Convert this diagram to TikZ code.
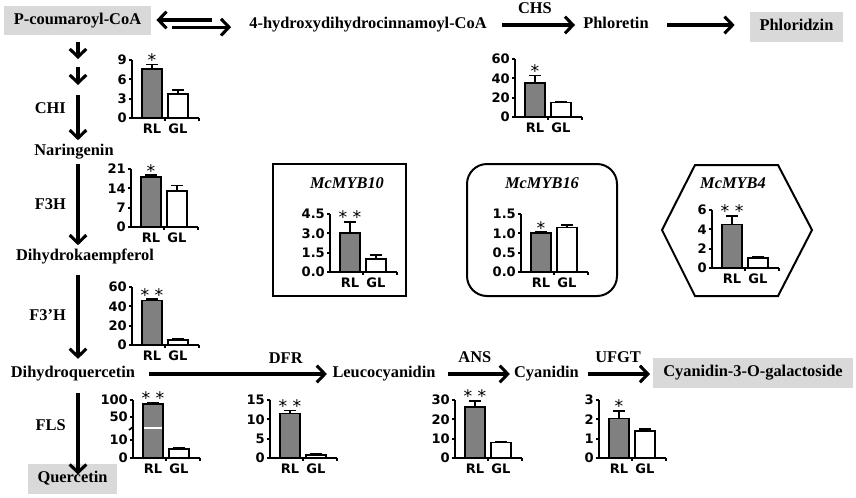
\documentclass[tikz,border=0pt]{standalone}
\usepackage{fontspec}
\setmainfont{Liberation Serif}
\newfontfamily\chartfont{DejaVu Sans}
\usetikzlibrary{arrows.meta}

\definecolor{boxgray}{RGB}{217,217,217}
\definecolor{bargray}{RGB}{128,128,128}

\tikzset{
  metab/.style={font=\bfseries\fontsize{12.3}{14}\selectfont, text height=8.6pt, text depth=2.7pt, inner sep=3pt},
  pbox/.style={metab, fill=boxgray, inner xsep=7.5pt, inner ysep=5.5pt},
  enz/.style={font=\bfseries\fontsize{12.3}{14}\selectfont, inner sep=3pt},
  flow/.style={line width=2.3pt, -{Straight Barb[length=6pt, width=12.5pt]}},
  genebox/.style={line width=1.5pt},
  genetitle/.style={font=\bfseries\itshape\fontsize{12.3}{14}\selectfont},
  axisline/.style={line width=1.3pt},
  barbox/.style={line width=1.3pt},
  chartlabel/.style={font=\chartfont\bfseries\fontsize{9.8}{11}\selectfont, inner sep=1pt},
  starlabel/.style={font=\chartfont\fontsize{13}{14}\selectfont, inner sep=0pt},
}

% #1 name, #2 origin, #3 axis max, #4 ticks, #5/#6 RL mean/error top, #7/#8 GL mean/error top, #9 stars
\newcommand{\expchart}[9]{%
  \begin{scope}[shift={#2}]
    \pgfmathsetmacro{\chartk}{58/#3}
    \draw[barbox] (20,-#5*\chartk) -- (20,-#6*\chartk) (14,-#6*\chartk) -- (26,-#6*\chartk);
    \draw[barbox] (46,-#7*\chartk) -- (46,-#8*\chartk) (40,-#8*\chartk) -- (52,-#8*\chartk);
    \draw[barbox, fill=bargray] (10,0) rectangle (30,-#5*\chartk);
    \draw[barbox, fill=white] (36,0) rectangle (56,-#7*\chartk);
    \draw[axisline] (0,-58) -- (0,0) -- (67,0);
    \draw[axisline] (33,0) -- (33,3) (67,0) -- (67,3);
    \foreach \tickv/\tickl [count=\i] in {#4}
      \draw[axisline] (0,-\tickv*\chartk) -- (-3,-\tickv*\chartk) node[chartlabel, anchor=east] (#1-t\i) {\tickl};
    \node[chartlabel] (#1-rl) at (20,11) {RL};
    \node[chartlabel] (#1-gl) at (46,11) {GL};
    \node[starlabel, anchor=base] (#1-star) at (20,-#6*\chartk+2) {#9};
  \end{scope}}

\begin{document}
\begin{tikzpicture}[x=0.75pt, y=-0.75pt]
\useasboundingbox (0,0) rectangle (856,497);

% top row
\node[pbox] (coum) at (77.5,20.5) {P-coumaroyl-CoA};
\node[metab] (hdc) at (368,25) {4-hydroxydihydrocinnamoyl-CoA};
\node[metab] (phlt) at (616,25) {Phloretin};
\node[pbox] (phlz) at (796.5,27) {Phloridzin};

\draw[flow, shorten <=25pt, shorten >=3.75pt] ([yshift=3.75pt]hdc.west) -- ([yshift=3.75pt]hdc.west -| coum.east);
\draw[flow, shorten <=15.75pt, shorten >=10.5pt] ([yshift=-5pt]coum.east) -- ([yshift=-5pt]coum.east -| hdc.west);
\draw[flow, shorten <=8.25pt, shorten >=3pt] (hdc) -- (phlt) node[enz, above=4pt, midway] (chs) {CHS};
\draw[flow, shorten <=10.5pt, shorten >=11pt] (phlt) -- (phlt -| phlz.west);

% left column
\node[metab] (nar) at (74,152) {Naringenin};
\node[metab] (dhk) at (85,257) {Dihydrokaempferol};
\node[metab] (dhq) at (73,374) {Dihydroquercetin};
\node[pbox] (que) at (72.5,479) {Quercetin};

\coordinate (k1) at (78,59);
\coordinate (k2) at (78,67);
\coordinate (k3) at (78,85);
\coordinate (k4) at (78,95);
\draw[flow, shorten <=5pt] (coum.south -| k1) -- (k1);
\draw[flow] (k2) -- (k3);
\draw[flow] (k4) -- (nar.north -| k4) node[enz, left=5pt, pos=.28] (chi) {CHI};
\draw[flow] (nar.south -| k4) -- (dhk.north -| k4) node[enz, left=5pt, midway] (f3h) {F3H};
\draw[flow, shorten <=5pt, shorten >=2.5pt] (dhk.south -| k4) -- (dhq.north -| k4) node[enz, left=5pt, midway] (f3ph) {F3’H};
\draw[flow, shorten <=5.5pt, shorten >=-8pt] (dhq.south -| k4) -- (que.north -| k4) node[enz, left=5pt, midway] (fls) {FLS};

% bottom row
\node[metab] (leu) at (384,374) {Leucocyanidin};
\node[metab] (cya) at (546.5,374) {Cyanidin};
\node[pbox] (c3g) at (753,373) {Cyanidin-3-O-galactoside};

\draw[flow, shorten <=7.5pt, shorten >=1pt] (dhq) -- (leu) node[enz, above=4pt, pos=.775] (dfr) {DFR};
\draw[flow, shorten <=6.4pt] (leu) -- (cya) node[enz, above=4pt, midway] (ans) {ANS};
\draw[flow, shorten <=3.75pt, shorten >=2.25pt] (cya) -- (cya -| c3g.west) node[enz, above=4pt, midway] (ufgt) {UFGT};

% transcription factors
\node[genebox, draw, minimum width=99.75pt, minimum height=99pt] (myb10box) at (339.5,230) {};
\node[genebox, draw, rounded corners=15pt, minimum width=112.5pt, minimum height=99pt] (myb16box) at (542,230) {};
\draw[genebox] (662,230) -- (695,165) -- (778,165) -- (812,230) -- (778,296) -- (695,296) -- cycle;
\node[genetitle] (myb10) at (347,183) {McMYB10};
\node[genetitle] (myb16) at (542,183) {McMYB16};
\node[genetitle] (myb4) at (733,183) {McMYB4};

% expression of RL and GL
\expchart{chiplot}{(132,118)}{9}{0/0,3/3,6/6,9/9}{7.6}{8.3}{3.7}{4.3}{*}
\expchart{chsplot}{(515,117)}{60}{0/0,20/20,40/40,60/60}{35}{43}{15}{16}{*}
\expchart{f3hplot}{(131,227)}{21}{0/0,7/7,14/14,21/21}{18}{18.8}{13}{15}{*}
\expchart{f3phplot}{(132,345)}{60}{0/0,20/20,40/40,60/60}{46}{47.5}{5}{6.3}{* *}
\expchart{flsplot}{(133,458)}{58}{0/0,18/10,41/50,58/100}{54}{55.5}{9}{10.5}{* *}
\expchart{dfrplot}{(270,458)}{15}{0/0,5/5,10/10,15/15}{11.5}{12.3}{0.8}{1.1}{* *}
\expchart{ansplot}{(455,458)}{30}{0/0,10/10,20/20,30/30}{26.5}{29.5}{8}{8.2}{* *}
\expchart{ufgtplot}{(599,458)}{3}{0/0,1/1,2/2,3/3}{2.05}{2.45}{1.4}{1.5}{*}
\expchart{myb10plot}{(330,272)}{4.5}{0/0.0,1.5/1.5,3/3.0,4.5/4.5}{3}{3.9}{1}{1.3}{* *}
\expchart{myb16plot}{(521,272)}{1.5}{0/0.0,0.5/0.5,1/1.0,1.5/1.5}{1}{1.03}{1.15}{1.22}{*}
\expchart{myb4plot}{(712,268)}{6}{0/0,2/2,4/4,6/6}{4.5}{5.4}{1}{1.2}{* *}

% broken axis of the FLS plot
\begin{scope}[shift={(133,458)}]
  \draw[white, line width=1.5pt] (10.7,-30) -- (29.3,-30);
  \draw[axisline] (-4,-28) -- (0,-31);
\end{scope}
\end{tikzpicture}
\end{document}
